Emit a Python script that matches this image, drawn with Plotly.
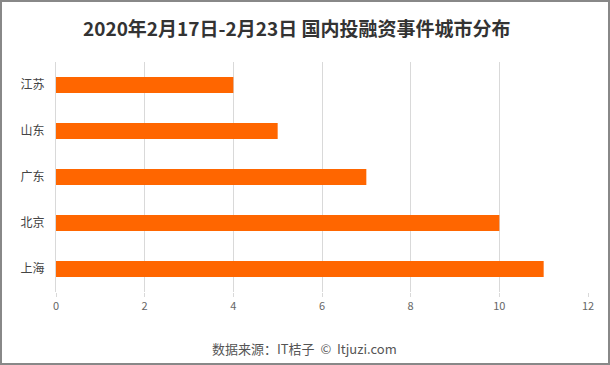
import plotly.graph_objects as go

cities = ["上海", "北京", "广东", "山东", "江苏"]
counts = [11, 10, 7, 5, 4]
x_ticks = [0, 2, 4, 6, 8, 10, 12]

title_text = "2020年2月17日-2月23日 国内投融资事件城市分布"
source_text = "数据来源：IT桔子  ©  Itjuzi.com"

W, H = 610, 365
ml, mr, mt, mb = 56, 22, 62, 73
pw, ph = W - ml - mr, H - mt - mb

fig = go.Figure(go.Bar(
    y=cities, x=counts, orientation="h",
    marker=dict(color="#FF6600", line=dict(width=0)),
    width=0.35,
))

font_family = "Noto Sans CJK SC, Noto Sans, sans-serif"

fig.update_layout(
    width=W, height=H,
    margin=dict(l=ml, r=mr, t=mt, b=mb, pad=0, autoexpand=False),
    paper_bgcolor="white", plot_bgcolor="white",
    font=dict(family=font_family),
    showlegend=False,
    bargap=0.65,
    xaxis=dict(
        range=[0, 12], tickvals=x_ticks, showgrid=True, gridcolor="#d9d9d9",
        gridwidth=1, zeroline=False, showline=False,
        ticks="outside", ticklen=4, tickcolor="#d9d9d9",
        tickfont=dict(size=11, color="#666666"),
        fixedrange=True, automargin=False,
    ),
    yaxis=dict(
        categoryorder="array", categoryarray=cities,
        showgrid=False, showline=True, linecolor="#d9d9d9", linewidth=1,
        ticks="", tickfont=dict(size=12, color="#444444"),
        ticklabelstandoff=8, automargin=False,
    ),
    annotations=[
        dict(text="<b>" + title_text + "</b>", xref="paper", yref="paper",
             x=(296 - ml) / pw, y=(H - mb - 28) / ph, xanchor="center", yanchor="middle",
             showarrow=False, font=dict(size=19, color="#333333", family=font_family)),
        dict(text=source_text, xref="paper", yref="paper",
             x=(304 - ml) / pw, y=(H - mb - 348) / ph, xanchor="center", yanchor="middle",
             showarrow=False, font=dict(size=13, color="#555555", family=font_family)),
    ],
    shapes=[
        dict(type="rect", xref="paper", yref="paper",
             x0=(1 - ml) / pw, x1=(W - 1 - ml) / pw,
             y0=(H - mb - (H - 1)) / ph, y1=(H - mb - 1) / ph,
             line=dict(color="#888888", width=2), fillcolor="rgba(0,0,0,0)", layer="above"),
    ],
)

fig.write_html("out.html", config={"displayModeBar": False},
               post_script="document.body.style.margin='0';document.body.style.overflow='hidden';")
